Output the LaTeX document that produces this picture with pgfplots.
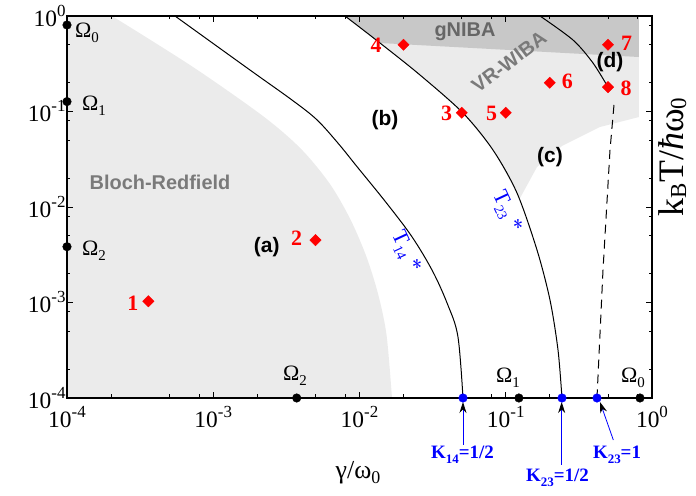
\documentclass[border=0pt]{standalone}
\usepackage{fontspec}
\setmainfont{Liberation Serif}
\setsansfont{Liberation Sans}
\usepackage{pgfplots}
\pgfplotsset{compat=1.18}
\usetikzlibrary{arrows.meta}

\definecolor{lightfill}{HTML}{EBEBEB}
\definecolor{darkfill}{HTML}{C8C8C8}
\definecolor{regiontext}{HTML}{7A7A7A}
\definecolor{nibatext}{HTML}{666666}

% powers of ten for the tick labels
\newcommand{\tp}[1]{10\raisebox{10bp}{\fontsize{17}{17}\selectfont #1}}
% symbol with a lowered index
\newcommand{\sub}[3][15]{#2\raisebox{-5bp}{\fontsize{#1}{#1}\selectfont #3}}

\begin{document}
\begin{tikzpicture}
\begin{axis}[
  scale only axis, width=585bp, height=382bp,
  xmode=log, ymode=log,
  xmin=1e-4, xmax=1, ymin=1e-4, ymax=1,
  xtick={1e-4,1e-3,1e-2,1e-1,1},
  ytick={1e-4,1e-3,1e-2,1e-1,1},
  xticklabels={\tp{-4},\tp{-3},\tp{-2},\tp{-1},\tp{0}},
  yticklabels={\tp{-4},\tp{-3},\tp{-2},\tp{-1},\tp{0}},
  minor xtick={2e-4,5e-4,8e-4,2e-3,5e-3,8e-3,2e-2,5e-2,8e-2,0.2,0.5,0.8},
  minor ytick={2e-4,5e-4,8e-4,2e-3,5e-3,8e-3,2e-2,5e-2,8e-2,0.2,0.5,0.8},
  tick align=inside,
  major tick length=6bp, minor tick length=3.5bp,
  every tick/.style={black, line width=0.9bp},
  axis line style={line width=1.2bp},
  tick label style={font=\fontsize{23.5}{24}\selectfont},
  xticklabel style={yshift=-5bp},
  yticklabel style={xshift=2bp},
  clip=false,
  axis on top,
]

% Bloch-Redfield domain
\addplot[fill=lightfill, draw=none, smooth, tension=0.5] coordinates {
  (2.031e-4,1) (7.268e-4,0.2924) (2.209e-3,0.08857) (4.005e-3,0.04022)
  (6.27e-3,0.01747) (8.650e-3,7.465e-3) (1.112e-2,3.055e-3) (1.341e-2,1.223e-3)
  (1.531e-2,4.56e-4) (1.668e-2,1e-4)}
  -- (axis cs:1e-4,1e-4) -- (axis cs:1e-4,1) -- cycle;

% VR-WIBA domain
\addplot[fill=lightfill, draw=none] coordinates {
  (7.963e-3,1) (1.381e-2,0.5216) (2.593e-2,0.2411) (5.101e-2,0.09645)
  (8.180e-2,0.03952) (0.1194,0.01401) (0.1232,0.01184) (0.1636,0.02623)
  (0.2424,0.04352) (0.4410,0.06882) (0.8149,0.08757) (0.8149,1)} -- cycle;

% gNIBA domain
\addplot[fill=darkfill, draw=none] coordinates {
  (7.963e-3,1) (1.381e-2,0.5216) (0.8149,0.3721) (0.8149,1)} -- cycle;

% crossover temperature T14*
\addplot[black, line width=1bp, smooth, tension=0.55] coordinates {
  (5.476e-4,1) (1.783e-3,0.2720) (3.455e-3,0.1319) (5.099e-3,0.08224)
  (7.138e-3,0.04652) (9.685e-3,0.02611) (1.515e-2,0.01122) (2.280e-2,4.90e-3)
  (3.153e-2,2.145e-3) (3.995e-2,9.64e-4) (4.708e-2,4.41e-4) (5.101e-2,1e-4)};

% crossover temperature T23*
\addplot[black, line width=1bp, smooth, tension=0.5] coordinates {
  (7.963e-3,1) (1.381e-2,0.5216) (2.593e-2,0.2411) (5.101e-2,0.09645)
  (8.180e-2,0.03952) (0.1194,0.01401) (0.1636,3.545e-3) (0.2007,1.062e-3)
  (0.2277,3.181e-4) (0.2424,1e-4)};

% boundary of region (d)
\addplot[black, line width=1bp, smooth, tension=0.5] coordinates {
  (0.1715,1) (0.2884,0.5605) (0.395,0.3221) (0.5,0.18)};

\addplot[black, line width=1bp, dash pattern=on 9bp off 6bp] coordinates {
  (0.5497,0.1170) (0.5163,0.03952) (0.4624,2.189e-3) (0.4206,1e-4)};

% characteristic frequencies
\addplot[only marks, mark=*, mark size=4.3bp, black] coordinates {
  (1e-4,0.805) (1e-4,0.127) (1e-4,3.84e-3)
  (3.72e-3,1e-4) (0.123,1e-4) (0.828,1e-4)};

% Kondo points
\addplot[only marks, mark=*, mark size=4.3bp, blue] coordinates {
  (5.101e-2,1e-4) (0.2424,1e-4) (0.4206,1e-4)};

% parameter sets 1-8
\addplot[only marks, mark=square*, mark size=4bp, red,
  mark options={rotate=45, fill=red, draw=red}] coordinates {
  (3.6e-4,1.03e-3) (5e-3,4.5e-3) (0.05,0.097) (0.02,0.5)
  (0.1,0.097) (0.2,0.2) (0.5,0.5) (0.5,0.18)};

\begin{scope}[font=\bfseries\fontsize{22}{22}\selectfont, red]
  \node at (rel axis cs:0.1128,0.2487) {1};
  \node at (rel axis cs:0.3926,0.4181) {2};
  \node at (rel axis cs:0.6491,0.7453) {3};
  \node at (rel axis cs:0.5282,0.9241) {4};
  \node at (rel axis cs:0.7260,0.7453) {5};
  \node at (rel axis cs:0.8552,0.8280) {6};
  \node at (rel axis cs:0.9567,0.9285) {7};
  \node at (rel axis cs:0.9556,0.8107) {8};
\end{scope}

\begin{scope}[font=\sffamily\bfseries\fontsize{21}{21}\selectfont]
  \node at (rel axis cs:0.3414,0.3961) {(a)};
  \node at (rel axis cs:0.5436,0.7277) {(b)};
  \node at (rel axis cs:0.8256,0.6317) {(c)};
  \node at (rel axis cs:0.9282,0.8804) {(d)};
\end{scope}

\begin{scope}[font=\sffamily\bfseries\fontsize{20}{20}\selectfont]
  \node[regiontext] at (rel axis cs:0.1590,0.5654) {Bloch-Redfield};
  \node[nibatext] at (rel axis cs:0.6803,0.9589) {gNIBA};
  \node[regiontext, rotate=37] at (rel axis cs:0.7556,0.8796) {VR-WIBA};
\end{scope}

\begin{scope}[font=\fontsize{22}{22}\selectfont, blue]
  \node[rotate=-65] at (rel axis cs:0.5778,0.3822) {\sub[14]{T}{14} *};
  \node[rotate=-65] at (rel axis cs:0.7504,0.4869) {\sub[14]{T}{23} *};
\end{scope}

\begin{scope}[font=\fontsize{22}{22}\selectfont, inner sep=0pt]
  \node[anchor=base west] at (rel axis cs:0.0137,0.9450) {\sub{Ω}{0}};
  \node[anchor=base west] at (rel axis cs:0.0256,0.7539) {\sub{Ω}{1}};
  \node[anchor=base west] at (rel axis cs:0.0256,0.3743) {\sub{Ω}{2}};
  \node[anchor=base west] at (rel axis cs:0.3692,0.0471) {\sub{Ω}{2}};
  \node[anchor=base west] at (rel axis cs:0.7333,0.0393) {\sub{Ω}{1}};
  \node[anchor=base west] at (rel axis cs:0.9470,0.0393) {\sub{Ω}{0}};
\end{scope}

% Kondo parameter annotations
\begin{scope}[font=\bfseries\fontsize{19}{19}\selectfont, blue, inner sep=0pt]
  \node[anchor=base] at (rel axis cs:0.6761,-0.1571) {\sub[13]{K}{14}=1/2};
  \node[anchor=base] at (rel axis cs:0.8385,-0.2191) {\sub[13]{K}{23}=1/2};
  \node[anchor=base] at (rel axis cs:0.9402,-0.1571) {\sub[13]{K}{23}=1};
\end{scope}
\begin{scope}[blue, line width=0.8bp, -{Stealth[black, length=11bp, width=7bp]}]
  \draw (rel axis cs:0.6769,-0.1230) -- (rel axis cs:0.6769,-0.0105);
  \draw (rel axis cs:0.8456,-0.1754) -- (rel axis cs:0.8456,-0.0105);
  \draw (rel axis cs:0.9339,-0.1099) -- (rel axis cs:0.9111,-0.0105);
\end{scope}

% axis titles
\node[anchor=base, inner sep=0pt, font=\fontsize{26}{26}\selectfont]
  at (rel axis cs:0.4974,-0.212) {γ/\sub[18]{ω}{0}};
\node[anchor=base, inner sep=0pt, rotate=90, font=\fontsize{36}{36}\selectfont]
  at (rel axis cs:1.0530,0.631)
  {k\raisebox{-3bp}{\fontsize{23}{23}\selectfont B}T/\textit{ħ}ω\raisebox{-3bp}{\fontsize{23}{23}\selectfont 0}};
\end{axis}
\pgfresetboundingbox
\path[use as bounding box] ([shift={(-67bp,-98bp)}]current axis.south west)
  rectangle ([shift={(44bp,16bp)}]current axis.north east);
\end{tikzpicture}
\end{document}
